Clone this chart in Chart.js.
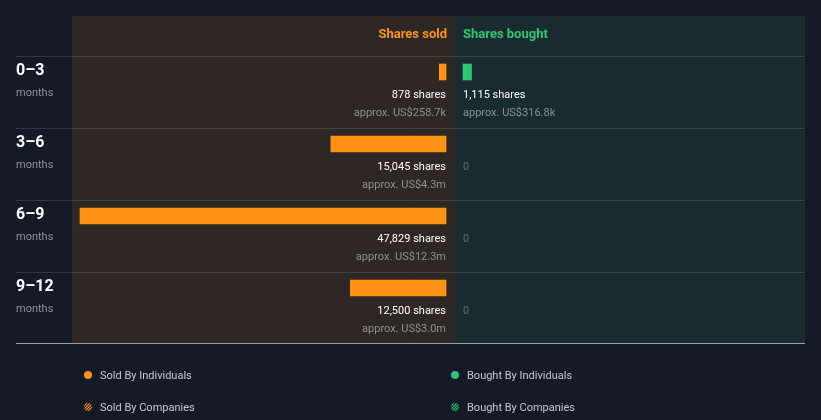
<!DOCTYPE html>
<html><head><meta charset="utf-8">
<script src="https://cdn.jsdelivr.net/npm/chart.js@4"></script>
<style>html,body{margin:0;padding:0;background:#151b26;}#wrap{width:821px;height:420px;position:relative;}</style>
</head><body><div id="wrap"><canvas id="c" width="821" height="420"></canvas></div>
<script>
const periods = ['0–3', '3–6', '6–9', '9–12'];
const periodUnit = 'months';
const soldShares = [878, 15045, 47829, 12500];
const boughtShares = [1115, 0, 0, 0];
const soldValue = ['US$258.7k', 'US$4.3m', 'US$12.3m', 'US$3.0m'];
const boughtValue = ['US$316.8k', null, null, null];
const headers = ['Shares sold', 'Shares bought'];
const legendLabels = ['Sold By Individuals', 'Bought By Individuals', 'Sold By Companies', 'Bought By Companies'];

const ORANGE = '#ff9316', GREEN = '#2ec774';
const FONT = 'Roboto, "Liberation Sans", sans-serif';
const fmt = n => n.toLocaleString('en-US');
const maxVal = Math.max(...soldShares, ...boughtShares);

const L = { left: 16, right: 805, panelL: 72, mid: 455, panelR: 805, top: 16, head: 56, bottom: 343,
  soldStart: 80, soldEnd: 446, boughtStart: 463, rowH: 72 };

const layoutPlugin = {
  id: 'layoutFix',
  afterLayout(chart) {
    const xs = chart.scales.xs, xb = chart.scales.xb, y = chart.scales.y;
    const w = L.soldEnd - L.soldStart;
    xs.left = L.soldStart; xs.right = L.soldEnd; xs.width = w; xs.configure();
    xb.left = L.boughtStart; xb.right = L.boughtStart + w; xb.width = w; xb.configure();
    y.top = L.head - 20; y.bottom = L.head - 20 + L.rowH * periods.length; y.height = y.bottom - y.top; y.configure();
  },
  beforeDatasetsDraw(chart) {
    const ctx = chart.ctx;
    ctx.save();
    ctx.fillStyle = '#2d2823';
    ctx.fillRect(L.panelL, L.top, L.mid - L.panelL, L.bottom - L.top);
    ctx.fillStyle = '#192b2e';
    ctx.fillRect(L.mid, L.top, L.panelR - L.mid, L.bottom - L.top);
    // headers
    ctx.font = 'bold 13px ' + FONT;
    ctx.textBaseline = 'middle';
    ctx.fillStyle = ORANGE; ctx.textAlign = 'right';
    ctx.fillText(headers[0], L.soldEnd + 1, 35);
    ctx.fillStyle = GREEN; ctx.textAlign = 'left';
    ctx.fillText(headers[1], L.boughtStart, 35);
    // separators
    ctx.strokeStyle = 'rgba(255,255,255,0.12)'; ctx.lineWidth = 1;
    for (let i = 0; i < periods.length; i++) {
      const yy = L.head + i * L.rowH + 0.5;
      ctx.beginPath(); ctx.moveTo(L.left, yy); ctx.lineTo(L.right, yy); ctx.stroke();
    }
    ctx.strokeStyle = '#9a9ea4';
    ctx.beginPath(); ctx.moveTo(L.left, L.bottom + 0.5); ctx.lineTo(L.right, L.bottom + 0.5); ctx.stroke();
    // row labels
    periods.forEach((p, i) => {
      const top = L.head + i * L.rowH;
      ctx.textAlign = 'left'; ctx.textBaseline = 'middle';
      ctx.fillStyle = '#ffffff'; ctx.font = 'bold 16px ' + FONT;
      ctx.fillText(p, L.left, top + 15);
      ctx.fillStyle = '#8c9096'; ctx.font = '11px ' + FONT;
      ctx.fillText(periodUnit, L.left, top + 37);
    });
    ctx.restore();
  },
  afterDatasetsDraw(chart) {
    const ctx = chart.ctx, y = chart.scales.y;
    ctx.save();
    ctx.textBaseline = 'middle';
    periods.forEach((p, i) => {
      const cy = y.getPixelForValue(i);
      // sold
      ctx.textAlign = 'right';
      if (soldShares[i] > 0) {
        ctx.fillStyle = '#ffffff'; ctx.font = '11px ' + FONT;
        ctx.fillText(fmt(soldShares[i]) + ' shares', L.soldEnd, cy + 23);
        ctx.fillStyle = '#8c9096';
        ctx.fillText('approx. ' + soldValue[i], L.soldEnd, cy + 41);
      } else {
        ctx.fillStyle = '#5f6b6d'; ctx.font = '11px ' + FONT;
        ctx.fillText('0', L.soldEnd, cy + 23);
      }
      ctx.textAlign = 'left';
      if (boughtShares[i] > 0) {
        ctx.fillStyle = '#ffffff'; ctx.font = '11px ' + FONT;
        ctx.fillText(fmt(boughtShares[i]) + ' shares', L.boughtStart, cy + 23);
        ctx.fillStyle = '#8c9096';
        ctx.fillText('approx. ' + boughtValue[i], L.boughtStart, cy + 41);
      } else {
        ctx.fillStyle = '#5f6b6d'; ctx.font = '11px ' + FONT;
        ctx.fillText('0', L.boughtStart, cy + 23);
      }
    });
    // legend
    const items = [
      { x: 88, y: 375, c: ORANGE, hatch: false, t: legendLabels[0] },
      { x: 455, y: 375, c: GREEN, hatch: false, t: legendLabels[1] },
      { x: 88, y: 407, c: ORANGE, hatch: true, t: legendLabels[2] },
      { x: 455, y: 407, c: GREEN, hatch: true, t: legendLabels[3] }
    ];
    items.forEach(it => {
      ctx.save();
      ctx.beginPath(); ctx.arc(it.x, it.y, 4, 0, Math.PI * 2);
      if (!it.hatch) { ctx.fillStyle = it.c; ctx.fill(); }
      else {
        ctx.clip();
        ctx.strokeStyle = it.c; ctx.lineWidth = 1.2;
        for (let k = -8; k <= 8; k += 3) {
          ctx.beginPath(); ctx.moveTo(it.x + k - 5, it.y + 5); ctx.lineTo(it.x + k + 5, it.y - 5); ctx.stroke();
        }
      }
      ctx.restore();
      ctx.fillStyle = '#c5c9ce'; ctx.font = '11px ' + FONT; ctx.textAlign = 'left';
      ctx.fillText(it.t, it.x + 12, it.y + 1);
    });
    ctx.restore();
  }
};

new Chart(document.getElementById('c'), {
  type: 'bar',
  data: {
    labels: periods,
    datasets: [
      { label: 'Shares sold', data: soldShares.map(v => v === 0 ? null : v), xAxisID: 'xs', yAxisID: 'y', backgroundColor: ORANGE,
        barThickness: 16, grouped: false, borderWidth: 0, clip: false },
      { label: 'Shares bought', data: boughtShares.map(v => v === 0 ? null : v), xAxisID: 'xb', yAxisID: 'y', backgroundColor: GREEN,
        barThickness: 16, grouped: false, borderWidth: 0, clip: false }
    ]
  },
  options: {
    indexAxis: 'y',
    responsive: false,
    animation: false,
    devicePixelRatio: 1,
    layout: { padding: { left: 72, right: 16, top: 56, bottom: 77 } },
    plugins: { legend: { display: false }, tooltip: { enabled: false } },
    scales: {
      xs: { type: 'linear', position: 'bottom', reverse: true, min: 0, max: maxVal, display: false },
      xb: { type: 'linear', position: 'top', min: 0, max: maxVal, display: false },
      y: { type: 'category', display: false, offset: true }
    }
  },
  plugins: [layoutPlugin]
});
</script>
</body></html>
